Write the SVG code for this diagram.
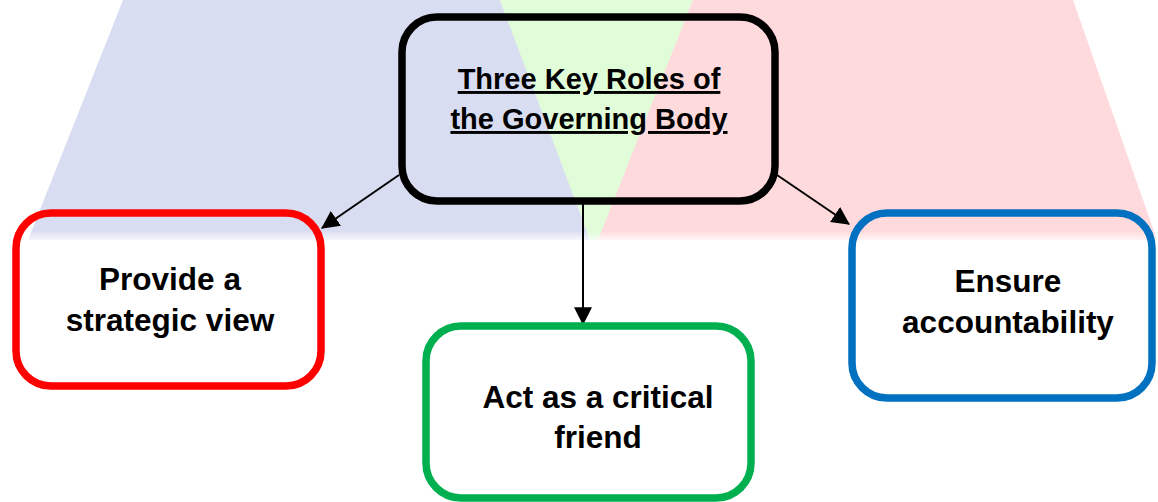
<svg xmlns="http://www.w3.org/2000/svg" width="1158" height="502" viewBox="0 0 1158 502">
<defs>
<style>
.box{fill:none;stroke-width:7.5}
.lbl{font-family:"Liberation Sans",Arial,sans-serif;font-weight:bold;font-size:31.5px;fill:#000;text-anchor:middle}
.title{font-family:"Liberation Sans",Arial,sans-serif;font-weight:bold;font-size:29px;fill:#000;text-anchor:middle;text-decoration:underline}
.conn{stroke:#000;stroke-width:2;fill:none}
</style>
<marker id="arr" markerUnits="userSpaceOnUse" markerWidth="18" markerHeight="18" viewBox="0 0 16 16" refX="15" refY="8" orient="auto">
<path d="M0,0 L16,8 L0,16 z" fill="#000"/>
</marker>
<linearGradient id="fade" x1="0" y1="0" x2="0" y2="1">
<stop offset="0" stop-color="#fff" stop-opacity="0"/>
<stop offset="1" stop-color="#fff" stop-opacity="1"/>
</linearGradient>
</defs>
<g id="background">
<polygon points="123,0 500,0 592,240 28,240" fill="#d9ddf2"/>
<polygon points="500,0 693,0 600,240 590,240" fill="#e0fcd9"/>
<polygon points="693,0 1073,0 1157,240 598,240" fill="#ffdadc"/>
<rect x="0" y="231" width="1158" height="12" fill="url(#fade)"/>
</g>
<g id="connectors">
<line class="conn" x1="399" y1="175" x2="322" y2="228" marker-end="url(#arr)"/>
<line class="conn" x1="583" y1="204" x2="583" y2="324" marker-end="url(#arr)"/>
<line class="conn" x1="777" y1="175" x2="849" y2="224" marker-end="url(#arr)"/>
</g>
<g id="node-main">
<rect class="box" x="402" y="17" width="373" height="184" rx="35" stroke="#000"/>
<text class="title" x="589" y="89">Three Key Roles of</text>
<text class="title" x="589" y="129">the Governing Body</text>
</g>
<g id="node-strategic">
<rect class="box" x="16" y="213" width="305" height="173" rx="35" stroke="#ff0000"/>
<text class="lbl" x="170" y="290">Provide a</text>
<text class="lbl" x="170" y="331">strategic view</text>
</g>
<g id="node-friend">
<rect class="box" x="426" y="326" width="325" height="172" rx="35" stroke="#00b050"/>
<text class="lbl" x="598" y="408">Act as a critical</text>
<text class="lbl" x="598" y="448">friend</text>
</g>
<g id="node-accountability">
<rect class="box" x="852" y="213" width="300" height="185" rx="35" stroke="#0070c0"/>
<text class="lbl" x="1008" y="292">Ensure</text>
<text class="lbl" x="1008" y="333">accountability</text>
</g>
</svg>
